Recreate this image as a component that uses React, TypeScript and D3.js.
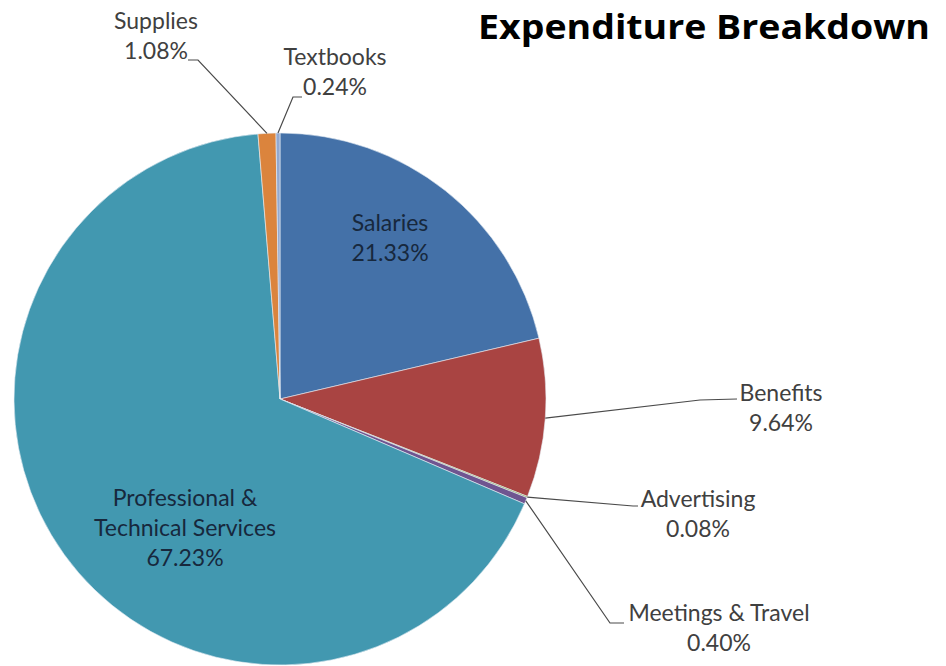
import React from "react";
import * as d3 from "d3";

const categories = [
  "Salaries",
  "Benefits",
  "Advertising",
  "Meetings & Travel",
  "Professional & Technical Services",
  "Supplies",
  "Textbooks",
];
const values = [21.33, 9.64, 0.08, 0.4, 67.23, 1.08, 0.24];
const colors = ["#4471A8", "#A94442", "#86A44C", "#6F5590", "#4298B0", "#DB843D", "#93A9D0"];

const W = 946;
const H = 666;
const cx = 280;
const cy = 399;
const R = 266;

type Lbl = { lines: string[]; x: number; y: number; inside?: boolean; leader?: [number, number][] };
const labelLayout: Record<string, Lbl> = {
  Salaries: { lines: ["Salaries", "21.33%"], x: 390, y: 231, inside: true },
  Benefits: { lines: ["Benefits", "9.64%"], x: 781, y: 401, leader: [[700, 400], [737, 399]] },
  Advertising: { lines: ["Advertising", "0.08%"], x: 698, y: 507, leader: [[633, 506], [638, 506]] },
  "Meetings & Travel": { lines: ["Meetings & Travel", "0.40%"], x: 719, y: 621, leader: [[610, 623], [624, 623]] },
  "Professional & Technical Services": {
    lines: ["Professional &", "Technical Services", "67.23%"],
    x: 185,
    y: 506,
    inside: true,
  },
  Supplies: { lines: ["Supplies", "1.08%"], x: 156, y: 29, leader: [[198, 60], [188, 60]] },
  Textbooks: { lines: ["Textbooks", "0.24%"], x: 335, y: 65, leader: [[293, 97], [302, 97]] },
};

export default function App() {
  const pie = d3.pie<number>().sort(null).value((d) => d);
  const arcs = pie(values);
  const arcGen = d3.arc<d3.PieArcDatum<number>>().innerRadius(0).outerRadius(R);
  const lineGen = d3.line();
  const font = "Lato, 'Open Sans', sans-serif";

  return (
    <svg
      width={W}
      height={H}
      style={{ position: "absolute", left: 0, top: 0, background: "#fff" }}
    >
      <text
        x={930}
        y={39}
        textAnchor="end"
        fontFamily="'Open Sans', sans-serif"
        fontWeight={700}
        fontSize={34}
        fill="#000"
        textLength={452}
        lengthAdjust="spacingAndGlyphs"
      >
        Expenditure Breakdown
      </text>
      <g transform={`translate(${cx},${cy})`}>
        {arcs.map((a, i) => (
          <path key={i} d={arcGen(a) || ""} fill={colors[i]} stroke="#e8eef5" strokeWidth={0.6} />
        ))}
      </g>
      {arcs.map((a, i) => {
        const lay = labelLayout[categories[i]];
        if (!lay || !lay.leader) return null;
        const mid = (a.startAngle + a.endAngle) / 2;
        const p0: [number, number] = [cx + R * Math.sin(mid), cy - R * Math.cos(mid)];
        const pts: [number, number][] = [p0, ...lay.leader];
        return (
          <path key={"l" + i} d={lineGen(pts) || ""} fill="none" stroke="#4a4a4a" strokeWidth={1.2} />
        );
      })}
      {categories.map((c, i) => {
        const lay = labelLayout[c];
        return (
          <text
            key={"t" + i}
            x={lay.x}
            y={lay.y}
            textAnchor="middle"
            fontFamily={font}
            fontSize={23}
            fill={lay.inside ? "#17283d" : "#404040"}
          >
            {lay.lines.map((ln, j) => (
              <tspan key={j} x={lay.x} dy={j === 0 ? 0 : 30}>
                {ln}
              </tspan>
            ))}
          </text>
        );
      })}
    </svg>
  );
}
